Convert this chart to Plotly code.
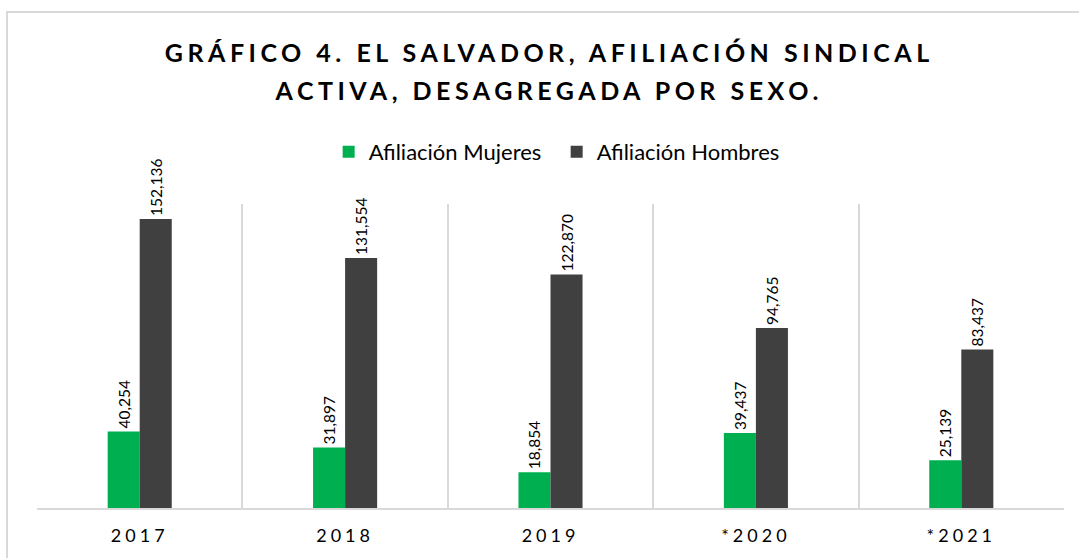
import plotly.graph_objects as go

# years on the x axis (asterisk = preliminary data)
years = ["2017", "2018", "2019", "*2020", "*2021"]

# active union membership by sex
mujeres = [40254, 31897, 18854, 39437, 25139]
hombres = [152136, 131554, 122870, 94765, 83437]

series_names = ["Afiliación Mujeres", "Afiliación Hombres"]

GREEN = "#00B050"
DARK = "#404040"
GRID = "#D9D9D9"
FONT = "Lato, 'Open Sans', sans-serif"

fig = go.Figure()
for name, vals, col in [(series_names[0], mujeres, GREEN), (series_names[1], hombres, DARK)]:
    fig.add_trace(go.Bar(
        x=years, y=vals, name=name,
        marker=dict(color=col, line=dict(width=0)),
        # nbsp padding keeps the label clear of the bar top like in the original
        text=[f"{v:,}" + "\u00a0\u00a0\u00a0\u00a0" for v in vals],
        textposition="outside",
        textangle=-90,
        constraintext="none",
        textfont=dict(size=15.5, color="#000000", family=FONT),
        cliponaxis=False,
    ))

fig.update_layout(
    width=1079, height=558,
    margin=dict(l=37, r=15, t=204, b=50),
    paper_bgcolor="white", plot_bgcolor="white",
    font=dict(family=FONT, color="#000000"),
    barmode="group", bargap=0.688, bargroupgap=0,
    title=dict(
        text="GRÁFICO 4. EL SALVADOR, AFILIACIÓN SINDICAL<br>ACTIVA, DESAGREGADA POR SEXO.",
        x=0.509, xanchor="center", y=1 - 62 / 558, yanchor="top", yref="container",
        font=dict(size=25, color="#000000", family=FONT, weight="bold"),
    ),
    legend=dict(
        orientation="h", x=0.506, xanchor="center", y=1.171, yanchor="middle",
        font=dict(size=22, color="#000000", family=FONT),
        entrywidth=183, entrywidthmode="pixels", traceorder="normal",
    ),
    showlegend=True,
)
fig.update_xaxes(
    type="category", tickson="boundaries", showgrid=True, gridcolor=GRID, gridwidth=1.5,
    showline=True, linecolor=GRID, linewidth=2, ticks="", mirror=False,
    ticklabelstandoff=10,
    tickfont=dict(size=18, color="#000000", family=FONT),
)
fig.update_yaxes(range=[0, 160000], visible=False, showgrid=False)

# frame around the chart, it runs past the right and bottom edges in the original
fig.add_shape(type="rect", xref="paper", yref="paper",
              x0=(7 - 37) / 1027, x1=1.05, y0=-0.3, y1=(508 - 12) / 304,
              line=dict(color=GRID, width=2), fillcolor="rgba(0,0,0,0)", layer="below")

post = """
document.body.style.margin='0';
document.querySelectorAll('.gtitle').forEach(function(t){t.style.letterSpacing='4.5px';
  t.querySelectorAll('tspan.line').forEach(function(s,i){ if(i>0){ s.setAttribute('dy','1.52em'); } });
});
document.querySelectorAll('.xtick text').forEach(function(t){t.style.letterSpacing='4px';});
"""
fig.write_html("out.html", post_script=post, config={"displayModeBar": False})
